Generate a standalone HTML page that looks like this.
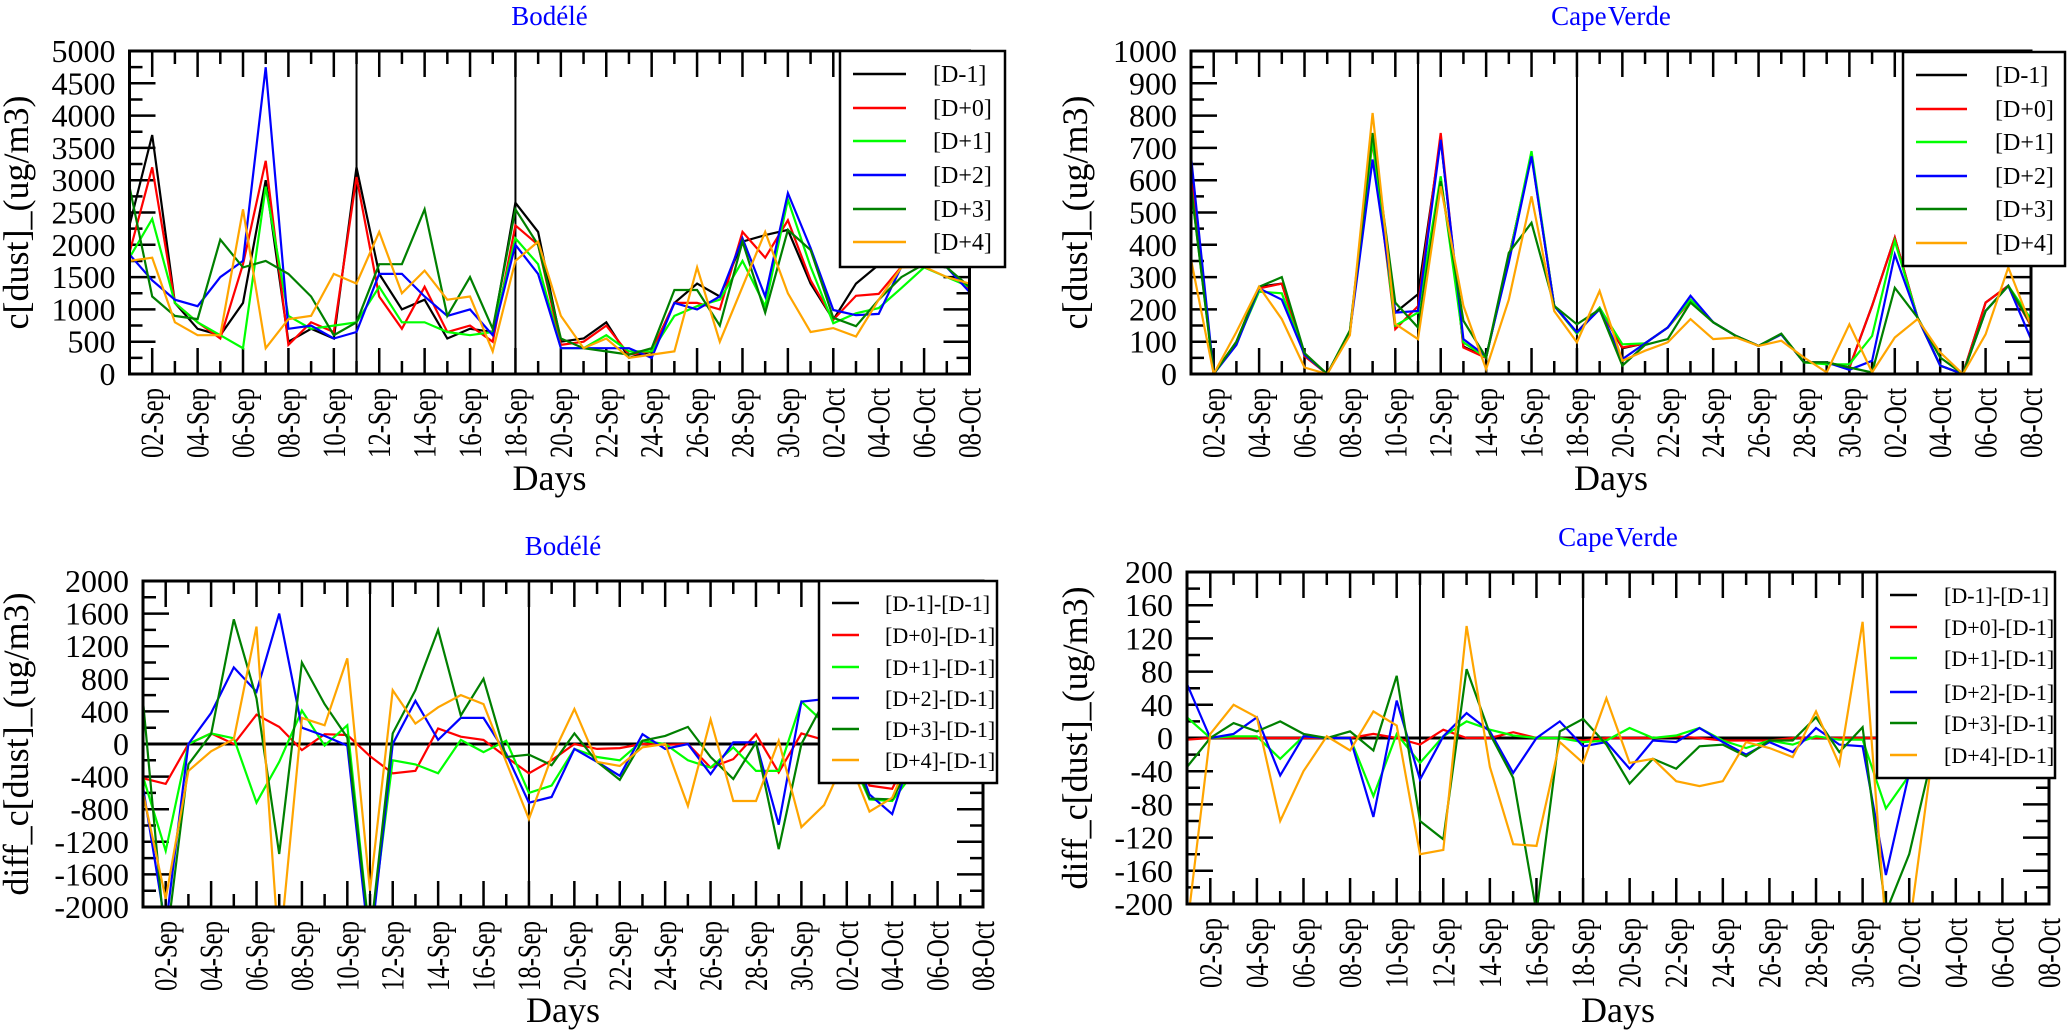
<!DOCTYPE html>
<html>
<head>
<meta charset="utf-8">
<style>
  html,body{margin:0;padding:0;background:#fff;}
  svg{display:block;font-family:"Liberation Serif",serif;}
  svg text{font-family:"Liberation Serif",serif;}
</style>
</head>
<body>
<svg id="chart" width="2067" height="1036" viewBox="0 0 2067 1036" font-family="Liberation Serif, serif" xmlns="http://www.w3.org/2000/svg"></svg>
<script>
// ---------- DATA ----------
const days = [1,2,3,4,5,6,7,8,9,10,11,12,13,14,15,16,17,18,19,20,21,22,23,24,25,26,27,28,29,30,31,32,33,34,35,36,37,38];
const tickDays = [2,4,6,8,10,12,14,16,18,20,22,24,26,28,30,32,34,36,38];
const tickLabels = ["02-Sep","04-Sep","06-Sep","08-Sep","10-Sep","12-Sep","14-Sep","16-Sep","18-Sep","20-Sep","22-Sep","24-Sep","26-Sep","28-Sep","30-Sep","02-Oct","04-Oct","06-Oct","08-Oct"];
const eventDays = [11,18];
const seriesNames = ["[D-1]","[D+0]","[D+1]","[D+2]","[D+3]","[D+4]"];
const diffNames = ["[D-1]-[D-1]","[D+0]-[D-1]","[D+1]-[D-1]","[D+2]-[D-1]","[D+3]-[D-1]","[D+4]-[D-1]"];

// Bodele concentration
const bodD_1 = [2300,3700,1100,700,600,1100,3000,500,700,550,3200,1550,1000,1150,550,700,650,2650,2200,500,550,800,250,350,1100,1400,1200,2050,2150,2230,1400,840,1400,1690,1660,1700,1650,1300];
const bodD0  = [1880,3200,1100,800,550,1700,3300,450,800,650,3050,1200,700,1350,650,750,500,2300,2000,450,500,750,300,350,1100,1100,1000,2200,1800,2380,1450,840,1210,1240,1660,1700,1650,1300];
const bodD1  = [1800,2400,1100,800,600,400,2900,900,700,750,800,1350,800,800,650,600,650,2100,1700,400,400,600,350,350,900,1050,1150,1750,1050,2700,1660,785,940,1020,1330,1650,1500,1350];
const bodD2  = [1850,1450,1150,1050,1500,1750,4750,700,750,550,650,1550,1550,1200,900,1000,600,2000,1550,400,400,400,400,250,1100,1000,1200,2100,1200,2800,1950,990,910,930,1660,1700,1650,1270];
const bodD3  = [2900,1200,900,850,2080,1650,1750,1550,1200,600,800,1700,1700,2550,900,1500,700,2550,2000,550,400,350,300,400,1300,1300,750,2050,950,2230,1920,870,740,1150,1500,1700,1650,1350];
const bodD4  = [1750,1800,800,600,600,2550,400,850,900,1550,1400,2200,1250,1600,1150,1200,350,1750,2050,900,400,550,250,300,350,1650,500,1350,2200,1250,650,710,580,1150,1650,1660,1500,1400];

// Cape Verde concentration
const cvD_1 = [620,0,100,270,280,60,0,130,730,190,247,730,85,51,360,680,211,129,205,80,95,144,230,160,118,87,123,36,36,20,211,422,175,26,0,221,273,150];
const cvD0  = [610,0,95,265,280,55,0,130,720,139,210,746,82,50,360,680,211,125,205,82,95,144,226,160,118,87,123,36,36,20,211,422,175,26,0,221,273,150];
const cvD1  = [580,0,95,255,250,60,0,130,725,150,190,612,98,51,355,690,211,125,205,92,95,144,230,160,118,87,123,36,30,30,118,412,175,26,0,195,273,170];
const cvD2  = [674,0,90,265,230,60,0,130,664,190,195,725,108,55,345,674,211,129,200,46,95,144,242,160,118,87,123,36,36,13,41,370,175,26,0,195,273,108];
const cvD3  = [580,0,100,270,300,65,0,135,746,221,144,597,165,51,375,468,211,154,200,26,90,108,221,160,118,87,125,36,36,20,5,267,175,51,0,195,273,154];
const cvD4  = [355,0,130,270,170,20,0,120,808,155,108,581,211,15,230,550,195,98,257,41,72,98,170,108,113,87,103,51,5,154,5,113,170,67,0,123,330,150];

// Bodele differences
const bodDiffD_1 = [0,0,0,0,0,0,0,0,0,0,0,0,0,0,0,0,0,0,0,0,0,0,0,0,0,0,0,0,0,0,0,0,0,0,0,0,0,0];
const bodDiffD0  = [-420,-490,0,130,0,360,210,-75,120,110,-150,-360,-330,190,90,50,-160,-360,-200,0,-60,-50,0,-10,0,-290,-185,120,-350,130,50,0,-510,-550,0,0,0,0];
const bodDiffD1  = [-400,-1310,0,130,70,-720,-220,410,-20,230,-2400,-200,-250,-360,50,-100,40,-600,-510,-60,-160,-200,40,0,-200,-290,-40,-330,-330,520,260,-55,-680,-700,-330,-50,-150,50];
const bodDiffD2  = [-530,-2250,0,380,940,640,1600,200,100,-20,-2550,0,530,50,320,320,-120,-720,-650,-60,-220,-390,120,-60,0,-370,20,20,-990,520,550,150,-620,-860,0,0,0,-30];
const bodDiffD3  = [530,-2500,-250,120,1530,560,-1350,1000,490,80,-2400,130,660,1400,350,800,-160,-130,-260,130,-220,-440,40,100,210,-160,-430,20,-1290,0,520,30,-670,-680,-160,0,0,50];
const bodDiffD4  = [-600,-1900,-330,-90,60,1440,-2600,320,230,1050,-1800,660,250,450,600,490,-220,-920,-160,430,-220,-270,-40,0,-760,300,-700,-700,40,-1020,-750,-130,-830,-660,0,-40,-150,100];

// Cape Verde differences
const cvDiffD_1 = [0,0,0,0,0,0,0,0,0,0,0,0,0,0,0,0,0,0,0,0,0,0,0,0,0,0,0,0,0,0,0,0,0,0,0,0,0,0];
const cvDiffD0  = [-2,0,0,0,0,0,0,0,5,0,-8,10,0,0,7,0,0,-3,0,0,0,2,0,-3,-3,-3,0,0,0,0,0,0,0,0,0,0,0,0];
const cvDiffD1  = [25,0,2,2,-25,2,0,0,-70,5,-30,2,20,10,3,0,0,-5,-3,12,0,3,12,-3,-12,-3,-8,2,-2,-2,-85,-45,0,0,0,0,0,0];
const cvDiffD2  = [65,0,5,25,-45,2,0,0,-95,45,-50,2,30,8,-42,0,20,-10,-5,-37,-3,-5,12,-5,-20,-5,-17,12,-8,-10,-165,-42,0,0,0,0,0,0];
const cvDiffD3  = [-35,0,18,8,20,5,0,8,-15,75,-100,-122,83,5,-48,-210,8,23,-8,-55,-25,-37,-10,-8,-22,-3,-3,25,-17,13,-210,-140,-20,0,0,0,0,0];
const cvDiffD4  = [-230,5,40,25,-100,-40,2,-15,32,15,-140,-135,135,-35,-128,-130,-5,-30,48,-30,-25,-52,-58,-52,-5,-12,-23,32,-32,140,-230,-230,-20,0,0,0,0,0];

// ---------- STYLE / LAYOUT ----------
const colors = ["#000000","#ff0000","#00ff00","#0000ff","#008000","#ffa500"];
const NS = "http://www.w3.org/2000/svg";
const svg = document.getElementById("chart");

function mk(tag, attrs, parent){
  const el = document.createElementNS(NS, tag);
  for (const k in attrs) el.setAttribute(k, attrs[k]);
  (parent || svg).appendChild(el);
  return el;
}

const panels = [
  {id:"bodele-conc", x0:129.5, x1:969.5, y0:51, y1:374, ymin:0, ymax:5000, major:500, minor:250,
   title:"Bodélé", titleY:25, ytitle:"c[dust]_(ug/m3)", ytx:28, daysY:490,
   series:[bodD_1,bodD0,bodD1,bodD2,bodD3,bodD4], names:seriesNames, zero:false,
   leg:{x:840,y:51,w:165,h:216,rows:[74,108,141,175,209,242],l1:853,l2:906,tx:933,fs:24}},
  {id:"capeverde-conc", x0:1191, x1:2031, y0:51, y1:374, ymin:0, ymax:1000, major:100, minor:50,
   title:"Cape Verde", titleY:25, ytitle:"c[dust]_(ug/m3)", ytx:1087, daysY:490,
   series:[cvD_1,cvD0,cvD1,cvD2,cvD3,cvD4], names:seriesNames, zero:false,
   leg:{x:1903,y:52,w:162,h:214,rows:[75,109,142,176,209,243],l1:1916,l2:1967,tx:1995,fs:24}},
  {id:"bodele-diff", x0:143, x1:983, y0:581, y1:907, ymin:-2000, ymax:2000, major:400, minor:200,
   title:"Bodélé", titleY:555, ytitle:"diff_c[dust]_(ug/m3)", ytx:28, daysY:1022,
   series:[bodDiffD_1,bodDiffD0,bodDiffD1,bodDiffD2,bodDiffD3,bodDiffD4], names:diffNames, zero:true,
   leg:{x:819,y:581,w:178,h:202,rows:[603,635,667,698,729,760],l1:832,l2:859,tx:885,fs:22}},
  {id:"capeverde-diff", x0:1187, x1:2049, y0:572, y1:904, ymin:-200, ymax:200, major:40, minor:20,
   title:"Cape Verde", titleY:546, ytitle:"diff_c[dust]_(ug/m3)", ytx:1087, daysY:1022,
   series:[cvDiffD_1,cvDiffD0,cvDiffD1,cvDiffD2,cvDiffD3,cvDiffD4], names:diffNames, zero:true,
   leg:{x:1877,y:572,w:178,h:206,rows:[595,627,658,692,723,755],l1:1890,l2:1917,tx:1944,fs:22}}
];

panels.forEach(function(p, pi){
  const g = mk("g", {});
  
  
  const xs = d => p.x0 + (d - days[0]) / (days[days.length-1] - days[0]) * (p.x1 - p.x0);
  const ys = v => p.y1 - (v - p.ymin) / (p.ymax - p.ymin) * (p.y1 - p.y0);

  const cp = mk("clipPath", {id:"clip"+pi}, g);
  mk("rect", {x:p.x0, y:p.y0, width:p.x1-p.x0, height:p.y1-p.y0}, cp);

  const t = mk("text", {x:(p.x0+p.x1)/2, y:p.titleY, "text-anchor":"middle", "font-size":27, fill:"#0000ff", "word-spacing":"-5"}, g);
  t.textContent = p.title;
  
  

  const cy = (p.y0+p.y1)/2;
  const yt = mk("text", {x:p.ytx, y:cy, "text-anchor":"middle", "font-size":36, transform:"rotate(-90 "+p.ytx+" "+cy+")"}, g);
  yt.textContent = p.ytitle;
  
  

  const xt = mk("text", {x:(p.x0+p.x1)/2, y:p.daysY, "text-anchor":"middle", "font-size":36}, g);
  xt.textContent = "Days";
  
  

  days.forEach(function(d){
    const x = xs(d);
    const len = (d % 2 === 0) ? 26 : 13;
    const tk = mk("path", {d:"M"+x+" "+p.y1+"V"+(p.y1-len)+"M"+x+" "+p.y0+"V"+(p.y0+len), stroke:"#000", "stroke-width":2.5, fill:"none"}, g);
    
    
  });
  tickDays.forEach(function(d, i){
    const x = xs(d) + 11;
    const y = p.y1 + 14;
    const lb = mk("text", {x:x, y:y, "text-anchor":"end", "font-size":33, textLength:70, lengthAdjust:"spacingAndGlyphs", transform:"rotate(-90 "+x+" "+y+")"}, g);
    lb.textContent = tickLabels[i];
    
    
  });

  const nMinor = Math.round((p.ymax - p.ymin) / p.minor);
  for (let i = 0; i <= nMinor; i++){
    const v = p.ymin + i * p.minor;
    const y = ys(v);
    const isMajor = Math.abs(Math.round(v / p.major) * p.major - v) < 1e-6;
    const len = isMajor ? 26 : 13;
    const tk = mk("path", {d:"M"+p.x0+" "+y+"H"+(p.x0+len)+"M"+p.x1+" "+y+"H"+(p.x1-len), stroke:"#000", "stroke-width":2.5, fill:"none"}, g);
    
    
    if (isMajor){
      const lb = mk("text", {x:p.x0-14, y:y+11, "text-anchor":"end", "font-size":32}, g);
      lb.textContent = String(v);
      
      
    }
  }

  eventDays.forEach(function(d){
    const ln = mk("line", {x1:xs(d), x2:xs(d), y1:p.y0, y2:p.y1, stroke:"#000", "stroke-width":2}, g);
    
    
  });

  if (p.zero){
    const zl = mk("line", {x1:p.x0, x2:p.x1, y1:ys(0), y2:ys(0), stroke:"#000", "stroke-width":3}, g);
    
    
  }

  const sg = mk("g", {"clip-path":"url(#clip"+pi+")"}, g);
  p.series.forEach(function(arr, si){
    const pts = arr.map((v, i) => xs(days[i]).toFixed(1) + "," + ys(v).toFixed(1)).join(" ");
    const pl = mk("polyline", {points:pts, fill:"none", stroke:colors[si], "stroke-width":2.2, "stroke-linejoin":"miter"}, sg);
    
    
  });

  const fr = mk("rect", {x:p.x0, y:p.y0, width:p.x1-p.x0, height:p.y1-p.y0, fill:"none", stroke:"#000", "stroke-width":3}, g);
  
  

  const L = p.leg;
  const lg = mk("g", {}, g);
  
  
  mk("rect", {x:L.x, y:L.y, width:L.w, height:L.h, fill:"#fff", stroke:"#000", "stroke-width":2.5}, lg);
  p.names.forEach(function(nm, si){
    const ry = L.rows[si];
    const e = mk("g", {}, lg);
    
    
    mk("line", {x1:L.l1, x2:L.l2, y1:ry, y2:ry, stroke:colors[si], "stroke-width":2.5}, e);
    const tx = mk("text", {x:L.tx, y:ry+8, "font-size":L.fs}, e);
    tx.textContent = nm;
  });
});
</script>
</body>
</html>
